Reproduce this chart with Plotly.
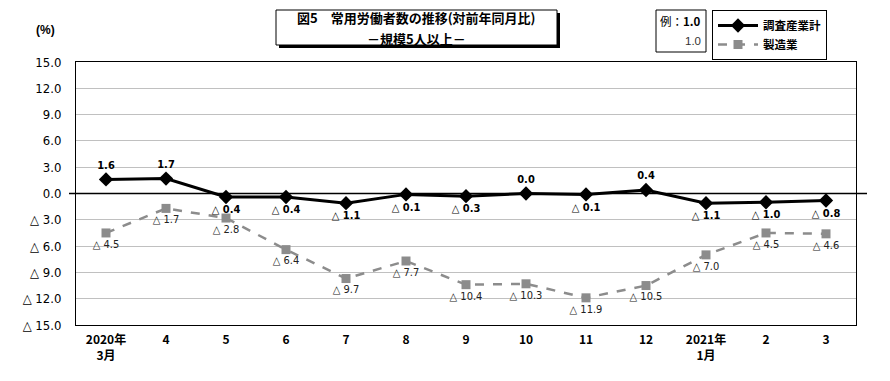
import plotly.graph_objects as go

categories = ["2020年<br>3月", "4", "5", "6", "7", "8", "9", "10", "11", "12", "2021年<br>1月", "2", "3"]
all_industries = [1.6, 1.7, -0.4, -0.4, -1.1, -0.1, -0.3, 0.0, -0.1, 0.4, -1.1, -1.0, -0.8]
manufacturing = [-4.5, -1.7, -2.8, -6.4, -9.7, -7.7, -10.4, -10.3, -11.9, -10.5, -7.0, -4.5, -4.6]
y_tickvals = [15, 12, 9, 6, 3, 0, -3, -6, -9, -12, -15]
y_ticktext = ["15.0", "12.0", "9.0", "6.0", "3.0", "0.0", "△ 3.0", "△ 6.0", "△ 9.0", "△ 12.0", "△ 15.0"]

def fmt(v):
    return f"{v:.1f}" if v >= 0 else f"△ {abs(v):.1f}"

FONT = "DejaVu Sans Condensed, DejaVu Sans, Noto Sans CJK JP, sans-serif"
NUM = "Liberation Sans, sans-serif"
CJK = "Noto Sans CJK JP, sans-serif"

xs = list(range(len(categories)))

fig = go.Figure()
fig.add_trace(go.Scatter(
    x=xs, y=manufacturing, name="<b>製造業</b>", mode="lines+markers+text",
    line=dict(color="#8c8c8c", width=2.5, dash="dash"),
    marker=dict(symbol="square", size=9, color="#8c8c8c"),
    text=[fmt(v) for v in manufacturing], textposition="bottom center",
    textfont=dict(family=FONT, size=11, color="#222"),
))
fig.add_trace(go.Scatter(
    x=xs, y=all_industries, name="<b>調査産業計</b>", mode="lines+markers+text",
    line=dict(color="black", width=3),
    marker=dict(symbol="diamond", size=11, color="black"),
    text=[f"<b>{fmt(v)}</b>" for v in all_industries],
    textposition=["top center" if v >= 0 else "bottom center" for v in all_industries],
    textfont=dict(family=FONT, size=11, color="black"),
))

# page body has an 8px default margin; express layout in page pixels
OFF = 8
FW, FH = 890 - OFF, 381 - OFF
L, T, W, H = 76 - OFF, 62 - OFF, 780, 263
def px(x):
    return (x - OFF - L) / W
def py(y):
    return (T + H - (y - OFF)) / H

shapes = [
    dict(type="line", xref="paper", yref="y", x0=px(69), x1=px(867), y0=0, y1=0,
         line=dict(color="black", width=1.5)),
    dict(type="rect", xref="paper", yref="paper", x0=px(279), x1=px(560), y0=py(48), y1=py(13),
         fillcolor="black", line=dict(width=0), layer="above"),
    dict(type="rect", xref="paper", yref="paper", x0=px(276), x1=px(557), y0=py(45), y1=py(10),
         fillcolor="white", line=dict(color="black", width=1), layer="above"),
    dict(type="rect", xref="paper", yref="paper", x0=px(656), x1=px(706), y0=py(52), y1=py(10),
         fillcolor="white", line=dict(color="black", width=1), layer="above"),
]

def ann(text, x, y, size, family, xanchor="center", color="black"):
    return dict(text=text, xref="paper", yref="paper", x=px(x), y=py(y),
                xanchor=xanchor, yanchor="middle", showarrow=False,
                font=dict(family=family, size=size, color=color))

annotations = [
    ann("<b>図5　常用労働者数の推移(対前年同月比)</b>", 416, 18, 13, CJK),
    ann("<b>－規模5人以上－</b>", 416, 38, 13, CJK),
    ann("例：<b>1.0</b>", 703, 21, 11.5, CJK, xanchor="right"),
    ann("1.0", 703, 41, 11.5, NUM, xanchor="right", color="#333"),
    ann("<b>(%)</b>", 45, 30, 12, NUM),
]

fig.update_layout(
    width=FW, height=FH,
    margin=dict(l=L, r=FW - L - W, t=T, b=FH - T - H, autoexpand=False),
    paper_bgcolor="white", plot_bgcolor="white",
    showlegend=True,
    legend=dict(x=px(712), y=py(10), xanchor="left", yanchor="top",
                bordercolor="black", borderwidth=1, bgcolor="white",
                font=dict(family=CJK, size=11.5, color="black"),
                traceorder="reversed", tracegroupgap=0, itemwidth=40),
    shapes=shapes, annotations=annotations,
    font=dict(family=NUM, size=12, color="black"),
)
fig.update_xaxes(
    tickmode="array", tickvals=xs, ticktext=[f"<b>{c}</b>" for c in categories],
    range=[-0.5, len(categories) - 0.5], showgrid=False, zeroline=False,
    showline=True, linecolor="black", linewidth=1, mirror=True,
    tickfont=dict(family=CJK, size=12, color="black"), ticks="", ticklabelstandoff=4,
)
fig.update_yaxes(
    tickmode="array", tickvals=y_tickvals, ticktext=y_ticktext,
    range=[-15, 15], showgrid=True, gridcolor="#c0c0c0", gridwidth=1, zeroline=False,
    showline=True, linecolor="black", linewidth=1, mirror=True,
    tickfont=dict(family=FONT, size=13, color="black"), ticks="", ticklabelstandoff=11,
)

fig.write_html("out.html")
